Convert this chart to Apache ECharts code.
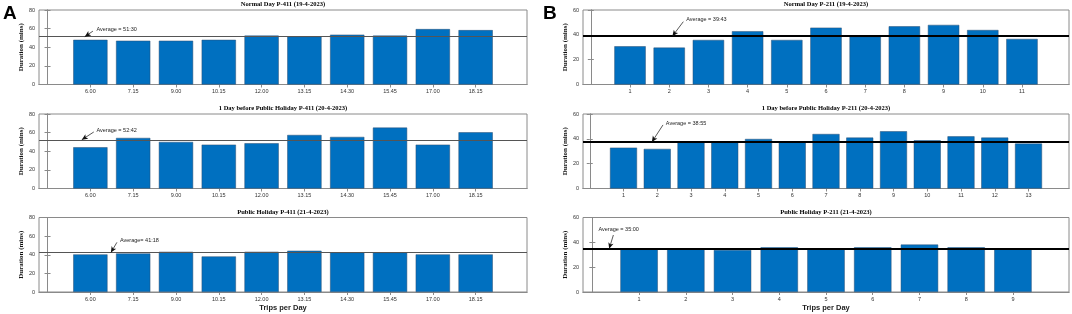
<!DOCTYPE html>
<html>
<head>
<meta charset="utf-8">
<script src="https://cdn.jsdelivr.net/npm/echarts@6/dist/echarts.min.js"></script>
<style>
  html, body { margin: 0; background: #fff; }
  #chart { width: 1072px; height: 314px; }
</style>
</head>
<body>
<div id="chart"></div>
<script>
// trip start times for route P-411, trip numbers for P-211
const p411Trips = ['6.00', '7.15', '9.00', '10.15', '12.00', '13.15', '14.30', '15.45', '17.00', '18.15']
const normal211Trips = ['1', '2', '3', '4', '5', '6', '7', '8', '9', '10', '11']
const before211Trips = ['1', '2', '3', '4', '5', '6', '7', '8', '9', '10', '11', '12', '13']
const holiday211Trips = ['1', '2', '3', '4', '5', '6', '7', '8', '9']

// durations (mins)
const normal411 = [48, 47, 47, 48, 52.5, 51.5, 53.5, 52.5, 59.5, 58.4]
const before411 = [44.3, 54.3, 50, 47.1, 48.6, 57.5, 55.4, 65.4, 47.1, 60.4]
const holiday411 = [40.4, 41.4, 43.2, 38.2, 43.2, 44.3, 42.5, 42.5, 40.4, 40.4]
const normal211 = [30.8, 29.7, 35.9, 42.9, 35.9, 45.8, 38.6, 46.9, 48, 43.9, 36.7]
const before211 = [32.9, 31.9, 37.2, 37.2, 39.9, 38, 43.9, 41, 46.1, 38.8, 42, 41, 36.2]
const holiday211 = [34.4, 35.2, 33.9, 36, 35, 36, 38.2, 36, 35.2]

// average lines and their labels
const avgLines = [51.4, 52.3, 42.3, 38.9, 37.4, 34.8]
const avgTexts = ['Average = 51:30', 'Average = 52:42', 'Average= 41:18', 'Average = 39:43', 'Average = 38:55', 'Average = 35:00']

const titles = [
  'Normal Day P-411 (19-4-2023)',
  '1 Day before Public Holiday P-411 (20-4-2023)',
  'Public Holiday P-411 (21-4-2023)',
  'Normal Day P-211 (19-4-2023)',
  '1 Day before Public Holiday P-211 (20-4-2023)',
  'Public Holiday P-211 (21-4-2023)'
]
const yMaxes = [80, 80, 80, 60, 60, 60]

const panels = [
  { labels: p411Trips, values: normal411 },
  { labels: p411Trips, values: before411 },
  { labels: p411Trips, values: holiday411 },
  { labels: normal211Trips, values: normal211 },
  { labels: before211Trips, values: before211 },
  { labels: holiday211Trips, values: holiday211 }
]

// layout of the six axes boxes (px) and the annotation arrows (data coords)
const boxes = [
  { left: 39, right: 545, top: 10 },
  { left: 39, right: 545, top: 114 },
  { left: 39, right: 545, top: 217.5 },
  { left: 583, right: 3, top: 10 },
  { left: 583, right: 3, top: 114 },
  { left: 583, right: 3, top: 217.5 }
]
const notes = [
  { from: [1.06, 57.3], tipX: 0.87, text: [1.13, 59.5] },
  { from: [1.08, 60.7], tipX: 0.8, text: [1.13, 62] },
  { from: [1.62, 53.3], tipX: 1.48, text: [1.68, 55.2] },
  { from: [2.36, 50.6], tipX: 2.08, text: [2.42, 52.2] },
  { from: [2.17, 51.2], tipX: 1.84, text: [2.24, 52.6] },
  { from: [0.45, 45.9], tipX: 0.36, text: [0.12, 50.2] }
]

const serif = 'Liberation Serif'
const sans = 'Liberation Sans'
const frameColor = '#8a8a8a'

const grid = []
const xAxis = []
const yAxis = []
const series = []

panels.forEach((p, i) => {
  const n = p.labels.length
  const ticks = p.labels.map((_, k) => k + 1)
  const isB = i >= 3
  const isBottom = i === 2 || i === 5
  grid.push({
    left: boxes[i].left, right: boxes[i].right, top: boxes[i].top, height: 74.5,
    show: true, borderColor: frameColor, borderWidth: 1
  })
  // bottom axis with trip labels
  xAxis.push({
    type: 'value', gridIndex: i, min: -0.2, max: n + 1.2,
    axisLine: { show: true, lineStyle: { color: frameColor } },
    axisTick: { show: true, inside: true, length: 3, customValues: ticks, lineStyle: { color: frameColor } },
    axisLabel: {
      customValues: ticks, margin: 4, fontSize: 5.5, color: '#333', fontFamily: sans,
      formatter: v => p.labels[Math.round(v) - 1]
    },
    splitLine: { show: false },
    name: isBottom ? 'Trips per Day' : '',
    nameLocation: 'middle', nameGap: 12,
    nameTextStyle: { fontSize: 7.5, fontWeight: 'bold', fontFamily: sans, color: '#222' }
  })
  // top axis: ticks + panel title
  xAxis.push({
    type: 'value', gridIndex: i, position: 'top', min: -0.2, max: n + 1.2,
    axisLine: { show: true, lineStyle: { color: frameColor } },
    axisTick: { show: true, inside: true, length: 3, customValues: ticks, lineStyle: { color: frameColor } },
    axisLabel: { show: false },
    splitLine: { show: false },
    name: titles[i], nameLocation: 'middle', nameGap: 2,
    nameTextStyle: { fontSize: 6.5, fontWeight: 'bold', fontFamily: serif, color: '#000' }
  })
  yAxis.push({
    type: 'value', gridIndex: i, min: 0, max: yMaxes[i], interval: 20,
    axisLine: { show: true, lineStyle: { color: frameColor } },
    axisTick: { show: true, inside: true, length: 3, lineStyle: { color: frameColor } },
    axisLabel: { margin: 4, fontSize: 5.5, color: '#333', fontFamily: sans },
    splitLine: { show: false },
    name: 'Duration (mins)', nameLocation: 'middle', nameGap: 9,
    nameTextStyle: { fontSize: 7, fontWeight: 'bold', fontFamily: serif, color: '#111' }
  })
  yAxis.push({
    type: 'value', gridIndex: i, position: 'right', min: 0, max: yMaxes[i], interval: 20,
    axisLine: { show: true, lineStyle: { color: frameColor } },
    axisTick: { show: true, inside: true, length: 3, lineStyle: { color: frameColor } },
    axisLabel: { show: false },
    splitLine: { show: false }
  })
  const note = notes[i]
  series.push({
    type: 'bar',
    xAxisIndex: i * 2,
    yAxisIndex: i * 2,
    data: p.values.map((v, k) => [k + 1, v]),
    barWidth: '80%',
    itemStyle: { color: '#0070c0', borderColor: '#2d4f73', borderWidth: 0.5 },
    animation: false,
    markLine: {
      silent: true,
      animation: false,
      label: { show: false },
      symbol: ['none', 'none'],
      data: [
        {
          yAxis: avgLines[i],
          lineStyle: isB ? { color: '#000', width: 2, type: 'solid' } : { color: '#555', width: 1, type: 'solid' }
        },
        [
          { coord: note.from, symbol: 'none' },
          { coord: [note.tipX, avgLines[i]], symbol: 'arrow', symbolSize: [4, 6] }
        ]
      ],
      lineStyle: { color: '#111', width: 0.7, type: 'solid' }
    },
    markPoint: {
      silent: true,
      animation: false,
      symbol: 'circle',
      symbolSize: 1,
      itemStyle: { color: 'rgba(0,0,0,0)' },
      data: [{
        coord: note.text,
        label: {
          show: true, position: 'right', distance: 0,
          formatter: avgTexts[i], fontSize: 5.5, color: '#222', fontFamily: sans
        }
      }]
    }
  })
})

const chart = echarts.init(document.getElementById('chart'), null, { renderer: 'canvas' })
chart.setOption({
  animation: false,
  backgroundColor: '#fff',
  grid,
  xAxis,
  yAxis,
  series,
  graphic: [
    { type: 'text', left: 3, top: 4, style: { text: 'A', font: 'bold 19px "Liberation Sans"', fill: '#000' } },
    { type: 'text', left: 543, top: 4, style: { text: 'B', font: 'bold 19px "Liberation Sans"', fill: '#000' } }
  ]
})
</script>
</body>
</html>
